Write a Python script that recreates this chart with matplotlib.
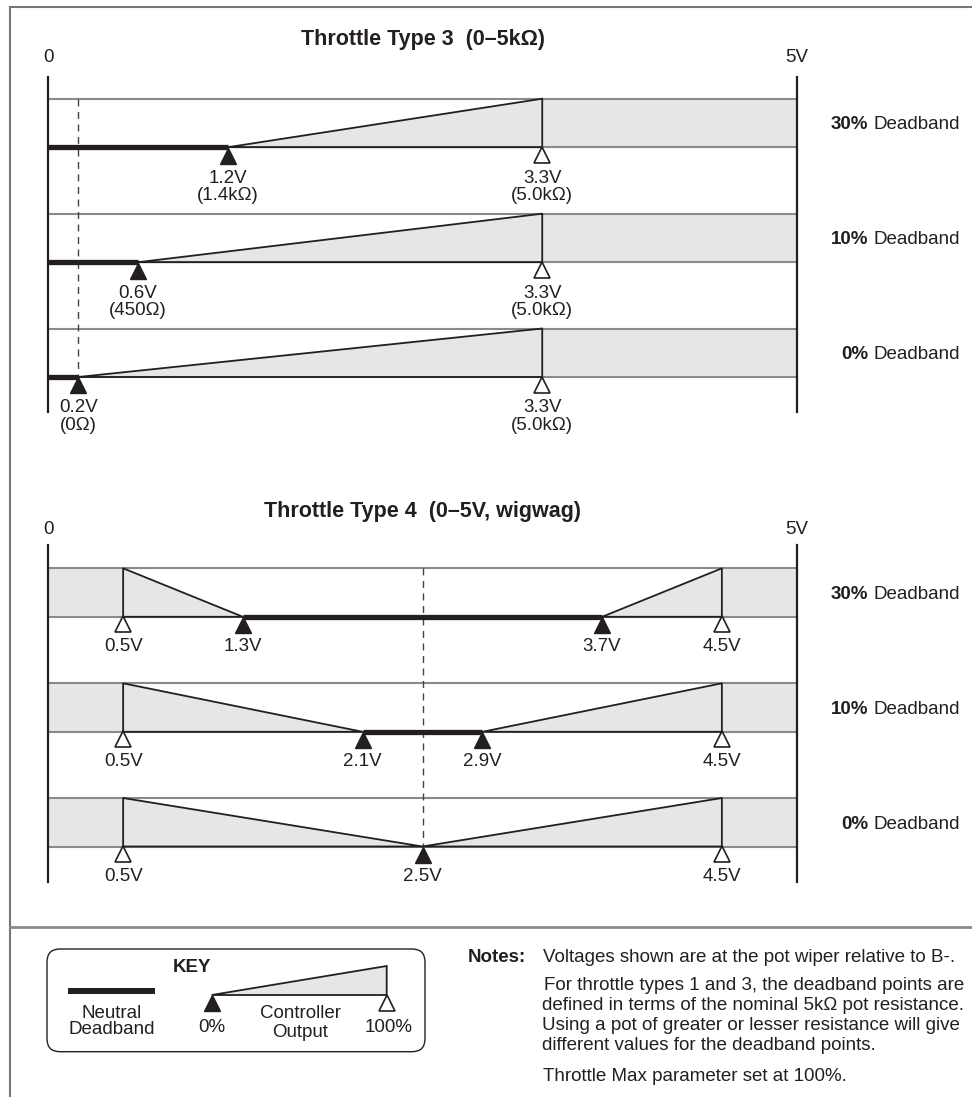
import matplotlib.pyplot as plt
from matplotlib.patches import Polygon, FancyBboxPatch

plt.rcParams['font.family'] = ['Liberation Sans', 'DejaVu Sans']

# ---- data ----
deadband_pcts = ["30%", "10%", "0%"]

# throttle type 3 (0-5k)
t3_neutral = [1.2, 0.6, 0.2]
t3_neutral_res = ["1.4k\u03a9", "450\u03a9", "0\u03a9"]
t3_full = 3.3
t3_full_res = "5.0k\u03a9"
t3_zero = 0.2

# throttle type 4 (wigwag)
t4_neutral_lo = [1.3, 2.1, 2.5]
t4_neutral_hi = [3.7, 2.9, 2.5]
t4_full_rev = 0.5
t4_full_fwd = 4.5
t4_center = 2.5

v_max = 5.0

# ---- style ----
GRAY = '#8a8a8a'
DARK = '#231f20'
FILL = '#e5e6e7'
FS = 13.5
FS_TITLE = 15.5

W, H = 972, 1097
X0, X5 = 48.3, 796.7          # pixel position of 0 V and 5 V
S = (X5 - X0) / v_max

fig = plt.figure(figsize=(W / 100, H / 100), dpi=100)
ax = fig.add_axes([0, 0, 1, 1])
ax.set_xlim(-X0 / S, (W - X0) / S)
ax.set_ylim(H, 0)
ax.axis('off')

# overlay in pixel coords for frame / key / notes
kx = fig.add_axes([0, 0, 1, 1])
kx.set_xlim(0, W)
kx.set_ylim(H, 0)
kx.axis('off')
kx.patch.set_alpha(0)

band_h = 48.5


def filled_tri(x, y, a=ax, ms=12):
    a.plot(x, y + ms * 1.389 / 2, marker='^', ms=ms, color=DARK, mec=DARK, zorder=6)


def open_tri(x, y, a=ax, ms=11):
    a.plot(x, y + ms * 1.389 / 2, marker='^', ms=ms, mfc='white', mec=DARK, mew=1.2, zorder=6)


def band(top):
    bot = top + band_h
    ax.plot([0, v_max], [top, top], color=GRAY, lw=1.5, zorder=2)
    ax.plot([0, v_max], [bot, bot], color=GRAY, lw=1.5, zorder=2)
    return bot


def section_frame(title, y_title, y_axis0, y_axis1):
    ax.text(v_max / 2, y_title, title, ha='center', va='center', fontsize=FS_TITLE,
            fontweight='bold', color=DARK)
    ax.text(0, y_title + 18, "0", ha='center', va='center', fontsize=FS, color=DARK)
    ax.text(v_max, y_title + 18, "5V", ha='center', va='center', fontsize=FS, color=DARK)
    ax.plot([0, 0], [y_axis0, y_axis1], color=DARK, lw=1.6, zorder=5)
    ax.plot([v_max, v_max], [y_axis0, y_axis1], color=DARK, lw=1.6, zorder=5)


def deadband_label(y, pct):
    ax.text(868, y, pct, transform=kx.transData, ha='right', va='center', fontsize=FS,
            fontweight='bold', color=DARK)
    ax.text(960, y, "Deadband", transform=kx.transData, ha='right', va='center',
            fontsize=FS, color=DARK)


# ---- Throttle Type 3 ----
t3_tops = [98.7, 213.7, 328.5]
section_frame("Throttle Type 3  (0\u20135k\u03a9)", 40, 76.7, 412)
ax.plot([t3_zero, t3_zero], [t3_tops[0], t3_tops[-1] + band_h], color='#444444', lw=1,
        dashes=(5, 4), zorder=3)
for top, n, res, pct in zip(t3_tops, t3_neutral, t3_neutral_res, deadband_pcts):
    bot = band(top)
    ax.add_patch(Polygon([(n, bot), (t3_full, top), (v_max, top), (v_max, bot)],
                         closed=True, fc=FILL, ec='none', zorder=1))
    ax.plot([n, t3_full, t3_full, n], [bot, top, bot, bot], color=DARK, lw=1.3, zorder=4)
    ax.plot([0, n], [bot, bot], color=DARK, lw=3.8, solid_capstyle='butt', zorder=5)
    filled_tri(n, bot)
    open_tri(t3_full, bot)
    ax.text(n, bot + 31, f"{n}V", ha='center', va='center', fontsize=FS, color=DARK)
    ax.text(n, bot + 48, f"({res})", ha='center', va='center', fontsize=FS, color=DARK)
    ax.text(t3_full, bot + 31, f"{t3_full}V", ha='center', va='center', fontsize=FS, color=DARK)
    ax.text(t3_full, bot + 48, f"({t3_full_res})", ha='center', va='center', fontsize=FS,
            color=DARK)
    deadband_label(top + band_h / 2 + 2, pct)

# ---- Throttle Type 4 ----
t4_tops = [568.3, 683.3, 798.0]
section_frame("Throttle Type 4  (0\u20135V, wigwag)", 511, 545, 882)
ax.plot([t4_center, t4_center], [t4_tops[0], t4_tops[-1] + band_h], color='#444444', lw=1,
        dashes=(5, 4), zorder=3)
for top, lo, hi, pct in zip(t4_tops, t4_neutral_lo, t4_neutral_hi, deadband_pcts):
    bot = band(top)
    ax.add_patch(Polygon([(0, top), (t4_full_rev, top), (lo, bot), (0, bot)],
                         closed=True, fc=FILL, ec='none', zorder=1))
    ax.add_patch(Polygon([(hi, bot), (t4_full_fwd, top), (v_max, top), (v_max, bot)],
                         closed=True, fc=FILL, ec='none', zorder=1))
    ax.plot([t4_full_rev, t4_full_rev, lo, t4_full_rev], [bot, top, bot, bot], color=DARK,
            lw=1.3, zorder=4)
    ax.plot([t4_full_fwd, t4_full_fwd, hi, t4_full_fwd], [bot, top, bot, bot], color=DARK,
            lw=1.3, zorder=4)
    if hi > lo:
        ax.plot([lo, hi], [bot, bot], color=DARK, lw=3.8, solid_capstyle='butt', zorder=5)
    marks = [lo] if hi == lo else [lo, hi]
    for m in marks:
        filled_tri(m, bot)
        ax.text(m, bot + 30, f"{m}V", ha='center', va='center', fontsize=FS, color=DARK)
    for m in [t4_full_rev, t4_full_fwd]:
        open_tri(m, bot)
        ax.text(m, bot + 30, f"{m}V", ha='center', va='center', fontsize=FS, color=DARK)
    deadband_label(top + band_h / 2 + 2, pct)

# ---- frame ----
kx.plot([10, W], [7, 7], color='#777777', lw=1.5)
kx.plot([10, 10], [7, H], color='#777777', lw=1.5)
kx.plot([10, W], [927, 927], color='#8a8a8a', lw=2)

# ---- key ----
kx.add_patch(FancyBboxPatch((47, 949), 378, 102.7, boxstyle="round,pad=0,rounding_size=13",
                            fc='white', ec=DARK, lw=1))
kx.text(191.7, 967, "KEY", ha='center', va='center', fontsize=FS, fontweight='bold', color=DARK)
kx.plot([68, 155], [990.7, 990.7], color=DARK, lw=4.3, solid_capstyle='butt')
kx.text(111.7, 1013, "Neutral", ha='center', va='center', fontsize=FS, color=DARK)
kx.text(111.7, 1030, "Deadband", ha='center', va='center', fontsize=FS, color=DARK)
kx.add_patch(Polygon([(211.7, 995), (386.7, 966), (386.7, 995)], closed=True, fc=FILL,
                     ec=DARK, lw=1.3))
filled_tri(211.7, 995, a=kx)
open_tri(386.7, 995, a=kx)
kx.text(211.7, 1028, "0%", ha='center', va='center', fontsize=FS, color=DARK)
kx.text(300, 1014, "Controller", ha='center', va='center', fontsize=FS, color=DARK)
kx.text(300, 1032.5, "Output", ha='center', va='center', fontsize=FS, color=DARK)
kx.text(389, 1028, "100%", ha='center', va='center', fontsize=FS, color=DARK)

# ---- notes ----
kx.text(526, 957, "Notes:", ha='right', va='center', fontsize=FS, fontweight='bold', color=DARK)
note_lines = [
    (543, 957, "Voltages shown are at the pot wiper relative to B-."),
    (544, 986, "For throttle types 1 and 3, the deadband points are"),
    (542, 1005.5, "defined in terms of the nominal 5k\u03a9 pot resistance."),
    (542, 1026, "Using a pot of greater or lesser resistance will give"),
    (542, 1046, "different values for the deadband points."),
    (543, 1076.5, "Throttle Max parameter set at 100%."),
]
for x, y, s in note_lines:
    kx.text(x, y, s, ha='left', va='center', fontsize=FS, color=DARK)

fig.savefig("out.png", dpi=100)
